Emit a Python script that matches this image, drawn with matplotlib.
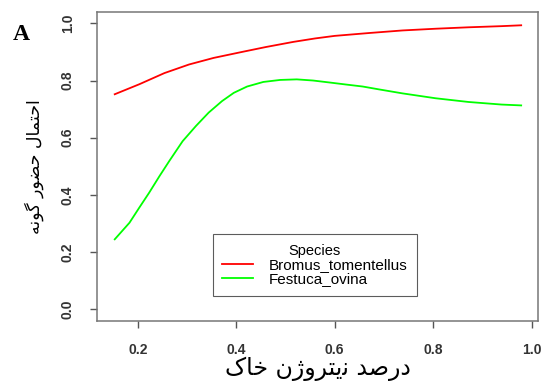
import matplotlib
matplotlib.use("Agg")
import matplotlib.pyplot as plt

nitrogen_bromus = [0.153, 0.203, 0.254, 0.304, 0.354, 0.412, 0.460, 0.516,
                   0.560, 0.600, 0.670, 0.738, 0.805, 0.872, 0.939, 0.979]
bromus = [0.752, 0.787, 0.826, 0.856, 0.879, 0.900, 0.917, 0.935,
          0.947, 0.956, 0.966, 0.975, 0.981, 0.986, 0.990, 0.993]
nitrogen_festuca = [0.153, 0.183, 0.203, 0.223, 0.244, 0.264, 0.291, 0.318,
                    0.344, 0.371, 0.395, 0.422, 0.455, 0.489, 0.523, 0.556,
                    0.590, 0.623, 0.657, 0.690, 0.738, 0.805, 0.872, 0.939, 0.979]
festuca = [0.245, 0.303, 0.356, 0.408, 0.466, 0.519, 0.588, 0.641,
           0.688, 0.728, 0.757, 0.779, 0.795, 0.802, 0.804, 0.800,
           0.793, 0.786, 0.779, 0.769, 0.755, 0.738, 0.725, 0.716, 0.713]
species = ["Bromus_tomentellus", "Festuca_ovina"]
colors = ["#ff0000", "#00ff00"]
xticks = [0.2, 0.4, 0.6, 0.8, 1.0]
yticks = [0.0, 0.2, 0.4, 0.6, 0.8, 1.0]

# Persian labels in Arabic presentation forms, reversed to visual order
xlabel_logical = ("\uFEA9\uFEAD\uFEBB\uFEAA" + " " +
                  "\uFEE7\uFBFE\uFE98\uFEAE\uFEED\uFB8A\uFEE5" + " " +
                  "\uFEA7\uFE8E\uFB8E")
ylabel_logical = ("\uFE8D\uFEA3\uFE98\uFEE4\uFE8E\uFEDD" + " " +
                  "\uFEA3\uFEC0\uFEEE\uFEAD" + " " +
                  "\uFB94\uFEEE\uFEE7\uFEEA")
xlabel = xlabel_logical[::-1]
ylabel = ylabel_logical[::-1]

fig = plt.figure(figsize=(5.45, 3.82), dpi=100)
ax = fig.add_axes([0.178, 0.160, 0.809, 0.809])

for xs, vals, name, c in zip([nitrogen_bromus, nitrogen_festuca],
                             [bromus, festuca], species, colors):
    ax.plot(xs, vals, color=c, lw=1.3, label=name)

ax.set_xlim(0.117, 1.013)
ax.set_ylim(-0.04, 1.04)
ax.set_xticks(xticks)
ax.set_xticklabels([f"{t:.1f}" for t in xticks])
ax.set_yticks(yticks)
ax.set_yticklabels([f"{t:.1f}" for t in yticks], rotation=90, va="center")

for s in ax.spines.values():
    s.set_color("#777777")
    s.set_linewidth(1.1)
ax.tick_params(direction="out", length=5, width=1, color="#555555",
               labelsize=10, labelcolor="#333333")
for lab in ax.get_xticklabels() + ax.get_yticklabels():
    lab.set_fontfamily("Liberation Sans")
    lab.set_fontweight("bold")
ax.tick_params(axis="x", pad=11)
ax.tick_params(axis="y", pad=11)

ax.set_xlabel(xlabel, fontsize=17, family=["DejaVu Sans"], labelpad=0)
ax.set_ylabel(ylabel, fontsize=12.5, family=["DejaVu Sans"], labelpad=12)

leg = ax.legend(loc="upper left", bbox_to_anchor=(0.262, 0.282), title="Species",
                prop={"family": "Liberation Sans", "size": 11},
                title_fontproperties={"family": "Liberation Sans", "size": 10.5},
                frameon=True, fancybox=False, edgecolor="#333333",
                handlelength=2.0, borderpad=0.65, labelspacing=0.02,
                handletextpad=1.0, borderaxespad=0)
leg.get_frame().set_linewidth(0.8)

fig.text(0.024, 0.895, "A", fontsize=17, fontweight="bold",
         family="Liberation Serif")

fig.savefig("out.png", dpi=100)
